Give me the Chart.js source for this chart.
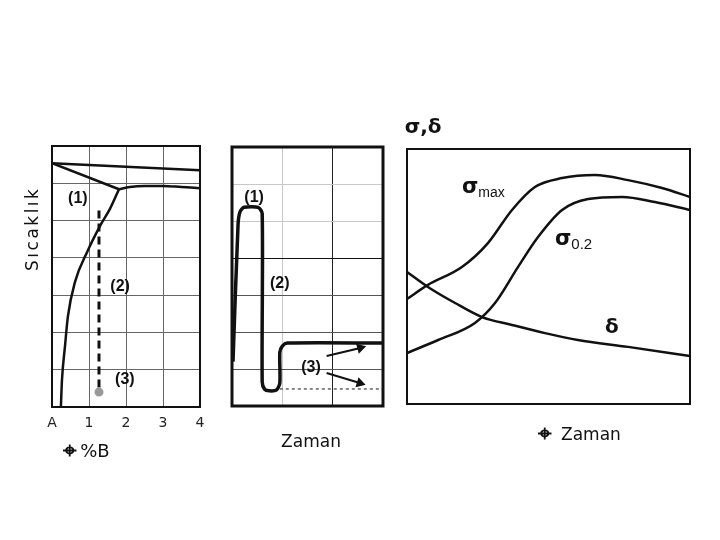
<!DOCTYPE html>
<html>
<head>
<meta charset="utf-8">
<script src="https://cdn.jsdelivr.net/npm/chart.js@4.4.0/dist/chart.umd.min.js"></script>
<style>
  html, body { margin: 0; padding: 0; background: #fff; }
  #wrap { position: relative; width: 720px; height: 540px; }
  canvas { position: absolute; left: 0; top: 0; }
</style>
</head>
<body>
<div id="wrap">
  <canvas id="phase" width="720" height="540"></canvas>
  <canvas id="heat" width="720" height="540"></canvas>
  <canvas id="props" width="720" height="540"></canvas>
</div>
<script>
// --- panel 1: faz diyagrami (x = %B, y = sicaklik, grid birimleri)
const phaseTicks = ['A', '1', '2', '3', '4'];
const topLineB = [0, 4];
const topLineT = [6.54, 6.35];
const liqLeftB = [0, 1.81];
const liqLeftT = [6.54, 5.84];
const liqRightB = [1.81, 2.1, 2.5, 3.0, 3.5, 4.0];
const liqRightT = [5.84, 5.90, 5.93, 5.93, 5.90, 5.87];
const solvusB = [0.24, 0.27, 0.35, 0.43, 0.62, 0.95, 1.30, 1.57, 1.81];
const solvusT = [0, 0.73, 1.62, 2.43, 3.35, 4.16, 4.86, 5.32, 5.84];
const alloyB = [1.27, 1.27];
const alloyT = [5.27, 0.4];

// --- panel 2: isil islem (x = zaman, y = sicaklik)
const cycleTime = [0.02, 0.12, 0.16, 0.24, 0.52, 0.60, 0.60, 0.65, 0.74, 0.88, 0.95, 0.95, 1.00, 1.10, 3.00];
const cycleTemp = [1.20, 4.90, 5.25, 5.37, 5.37, 5.20, 0.65, 0.45, 0.41, 0.43, 0.62, 1.45, 1.62, 1.70, 1.70];
const quenchTime = [0.95, 3.0];
const quenchTemp = [0.46, 0.46];
const arrowUpTime = [1.88, 2.55];
const arrowUpTemp = [1.35, 1.57];
const arrowDownTime = [1.88, 2.54];
const arrowDownTemp = [0.89, 0.62];

// --- panel 3: mekanik ozellikler (x = zaman, y = sigma, delta)
const sMaxX = [0, 0.74, 1.94, 2.86, 3.71, 4.52, 5.48, 6.64, 7.81, 9.01, 10];
const sMaxY = [4.12, 4.67, 5.37, 6.31, 7.61, 8.51, 8.86, 8.98, 8.78, 8.47, 8.12];
const s02X = [0, 1.10, 2.40, 3.11, 3.92, 4.63, 5.48, 6.40, 7.60, 8.76, 10];
const s02Y = [2.00, 2.51, 3.18, 3.96, 5.37, 6.55, 7.61, 8.04, 8.12, 7.92, 7.61];
const deltaX = [0, 0.74, 1.70, 2.65, 3.71, 4.88, 6.04, 7.81, 10];
const deltaY = [5.18, 4.59, 3.96, 3.41, 3.10, 2.78, 2.51, 2.24, 1.88];

const zip = (xs, ys) => xs.map((x, i) => ({x: x, y: ys[i]}));

const symFont = 'bold 24px "DejaVu Sans"';

// yazilar (veri koordinatlarinda)
const phaseTexts = [
  {t: 'Sıcaklık', x: -0.51, y: 4.78, rot: -Math.PI / 2, font: '17px "DejaVu Sans"', spacing: '2.5px'},
  {t: '(1)', x: 0.70, y: 5.59},
  {t: '(2)', x: 1.84, y: 3.22},
  {t: '(3)', x: 1.97, y: 0.73},
  {t: '⌖', x: 0.49, y: -1.20, font: symFont},
  {t: '%B', x: 1.16, y: -1.22, font: '18px "DejaVu Sans"'}
];
const heatTexts = [
  {t: '(1)', x: 0.44, y: 5.62},
  {t: '(2)', x: 0.95, y: 3.32},
  {t: '(3)', x: 1.57, y: 1.03},
  {t: 'Zaman', x: 1.57, y: -1.0, font: '17px "DejaVu Sans"'}
];
const propTexts = [
  {t: 'σ,δ', x: 0.57, y: 10.82, font: 'bold 20px "DejaVu Sans"'},
  {t: 'σ', sub: 'max', x: 1.94, y: 8.47, align: 'left', font: 'bold 21px "DejaVu Sans"', subFont: '14px "Liberation Sans"'},
  {t: 'σ', sub: '0.2', x: 5.23, y: 6.43, align: 'left', font: 'bold 21px "DejaVu Sans"', subFont: '15px "Liberation Sans"'},
  {t: 'δ', x: 7.24, y: 2.98, font: 'bold 20px "DejaVu Sans"'},
  {t: '⌖', x: 4.88, y: -1.20, font: symFont},
  {t: 'Zaman', x: 6.50, y: -1.22, font: '17px "DejaVu Sans"'}
];

// yazilari cizer
const textPlugin = {
  id: 'texts',
  afterDraw(chart, args, opts) {
    const ctx = chart.ctx;
    const sx = chart.scales.x, sy = chart.scales.y;
    (opts.items || []).forEach(it => {
      ctx.save();
      ctx.fillStyle = '#111';
      ctx.font = it.font || 'bold 16px "Liberation Sans"';
      ctx.textBaseline = 'middle';
      ctx.textAlign = it.align || 'center';
      if (it.spacing) ctx.letterSpacing = it.spacing;
      ctx.translate(sx.getPixelForValue(it.x), sy.getPixelForValue(it.y));
      if (it.rot) ctx.rotate(it.rot);
      ctx.fillText(it.t, 0, 0);
      if (it.sub) {
        const w = ctx.measureText(it.t).width;
        ctx.font = it.subFont;
        ctx.textAlign = 'left';
        ctx.fillText(it.sub, w, 5);
      }
      ctx.restore();
    });
  }
};

// cerceve
const framePlugin = {
  id: 'frame',
  afterDatasetsDraw(chart, args, opts) {
    const a = chart.chartArea, ctx = chart.ctx;
    ctx.save();
    ctx.strokeStyle = '#111';
    ctx.lineWidth = opts.width || 2;
    ctx.strokeRect(a.left, a.top, a.right - a.left, a.bottom - a.top);
    ctx.restore();
  }
};

function line(data, w, extra) {
  return Object.assign({
    data: data, borderColor: '#111', borderWidth: w, pointRadius: 0,
    fill: false, tension: 0
  }, extra || {});
}

function baseOptions(pad, xr, yr, texts, frameW) {
  return {
    responsive: false, animation: false, events: [],
    layout: {padding: pad},
    plugins: {legend: {display: false}, tooltip: {enabled: false},
      texts: {items: texts}, frame: {width: frameW}},
    scales: {
      x: {type: 'linear', min: xr[0], max: xr[1],
        ticks: {display: false, stepSize: 1},
        grid: {display: false, drawTicks: false}, border: {display: false},
        afterFit: s => { s.height = 0; }},
      y: {type: 'linear', min: yr[0], max: yr[1],
        ticks: {display: false, stepSize: 1},
        grid: {display: false, drawTicks: false}, border: {display: false},
        afterFit: s => { s.width = 0; }}
    }
  };
}

// panel 1
const opt1 = baseOptions({left: 52, right: 520, top: 146, bottom: 103}, [0, 4], [0, 7], phaseTexts, 2);
opt1.scales.x.ticks = {display: true, stepSize: 1, padding: 8, color: '#222',
  font: {family: 'DejaVu Sans', size: 14}, callback: v => phaseTicks[v]};
opt1.scales.x.afterFit = s => { s.height = 30; };
opt1.scales.x.grid = {display: true, drawTicks: false, color: '#666', lineWidth: 1};
opt1.scales.y.grid = {display: true, drawTicks: false, color: '#666', lineWidth: 1};
new Chart(document.getElementById('phase'), {
  type: 'scatter',
  data: {datasets: [
    line(zip(topLineB, topLineT), 2.5, {showLine: true}),
    line(zip(liqLeftB, liqLeftT), 2.5, {showLine: true}),
    line(zip(liqRightB, liqRightT), 2.5, {showLine: true, cubicInterpolationMode: 'monotone'}),
    line(zip(solvusB, solvusT), 2.5, {showLine: true, cubicInterpolationMode: 'monotone'}),
    line(zip(alloyB, alloyT), 3, {showLine: true, borderDash: [8, 5],
      pointRadius: [0, 3], pointBackgroundColor: '#999', pointBorderColor: '#999'})
  ]},
  options: opt1,
  plugins: [textPlugin, framePlugin]
});

// panel 2
const opt2 = baseOptions({left: 232, right: 337, top: 147, bottom: 134}, [0, 3], [0, 7], heatTexts, 3);
opt2.scales.x.grid = {display: true, drawTicks: false, lineWidth: 1,
  color: c => c.tick.value === 1 ? '#c8c8c8' : '#222'};
opt2.scales.y.grid = {display: true, drawTicks: false, lineWidth: 1,
  color: c => c.tick.value >= 5 ? '#c8c8c8' : (c.tick.value === 4 ? '#111' : '#555')};
new Chart(document.getElementById('heat'), {
  type: 'scatter',
  data: {datasets: [
    line(zip(quenchTime, quenchTemp), 1, {showLine: true, borderDash: [3, 3]}),
    line(zip(cycleTime, cycleTemp), 3.5, {showLine: true, tension: 0.25, borderJoinStyle: 'round'}),
    line(zip(arrowUpTime, arrowUpTemp), 2, {showLine: true, pointStyle: 'triangle',
      pointRadius: [0, 4], pointRotation: [0, 75], pointBackgroundColor: '#111', pointBorderColor: '#111'}),
    line(zip(arrowDownTime, arrowDownTemp), 2, {showLine: true, pointStyle: 'triangle',
      pointRadius: [0, 4], pointRotation: [0, 107], pointBackgroundColor: '#111', pointBorderColor: '#111'})
  ]},
  options: opt2,
  plugins: [textPlugin, framePlugin]
});

// panel 3
const opt3 = baseOptions({left: 407, right: 30, top: 149, bottom: 136}, [0, 10], [0, 10], propTexts, 2);
new Chart(document.getElementById('props'), {
  type: 'scatter',
  data: {datasets: [
    line(zip(sMaxX, sMaxY), 2.5, {showLine: true, cubicInterpolationMode: 'monotone'}),
    line(zip(s02X, s02Y), 2.5, {showLine: true, cubicInterpolationMode: 'monotone'}),
    line(zip(deltaX, deltaY), 2.5, {showLine: true, cubicInterpolationMode: 'monotone'})
  ]},
  options: opt3,
  plugins: [textPlugin, framePlugin]
});
</script>
</body>
</html>
